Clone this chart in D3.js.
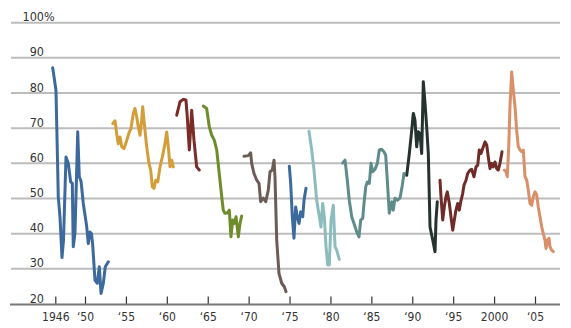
<!DOCTYPE html>
<html><head><meta charset="utf-8">
<script src="https://cdn.jsdelivr.net/npm/d3@7"></script>
<style>
html,body{margin:0;padding:0;background:#fff;}
svg{display:block;}
text{font-family:"Liberation Sans Narrow","DejaVu Sans Condensed","Roboto Condensed",sans-serif;font-stretch:condensed;fill:#333;}
</style></head>
<body>
<svg id="chart" width="571" height="328"></svg>
<script>
// Presidential approval series: [year, percent]
const truman = [[1945.65,87.2],[1946.09,80.8],[1946.27,63.7],[1946.40,50.5],[1946.63,44.8],[1946.90,33.2],[1947.10,38],[1947.44,61.8],[1947.75,60],[1948.07,54.7],[1948.29,54.3],[1948.42,36.3],[1948.65,40.1],[1949.02,69],[1949.23,56.2],[1949.46,55],[1949.77,48.6],[1950.21,42],[1950.40,37.2],[1950.61,40.5],[1950.79,40],[1950.94,36.8],[1951.22,26.8],[1951.50,25.9],[1951.75,30.6],[1951.96,23],[1952.24,25.9],[1952.48,30.6],[1952.85,32]];
const eisenhower = [[1953.39,71.3],[1953.67,72.1],[1953.87,68.5],[1954.07,65.6],[1954.28,67.5],[1954.49,64.7],[1954.77,64.2],[1955.10,66.5],[1955.41,68.9],[1955.62,69.9],[1955.90,74.2],[1956.11,75.6],[1956.32,73.2],[1956.51,70.4],[1956.72,68],[1956.93,72.3],[1957.05,76.1],[1957.25,71.3],[1957.54,64.7],[1957.82,60],[1958.03,58.1],[1958.23,53.3],[1958.43,52.9],[1958.64,55.2],[1958.89,54.7],[1959.17,59],[1959.45,61.8],[1959.78,65.6],[1959.99,68.9],[1960.18,64.8],[1960.39,59],[1960.60,60.9],[1960.79,59]];
const kennedy = [[1961.21,73.7],[1961.61,77.5],[1962.01,78.2],[1962.34,78],[1962.50,73.2],[1962.75,63.8],[1963.04,75.1],[1963.32,66.6],[1963.65,59],[1963.97,58.1]];
const johnson = [[1964.46,76.3],[1964.87,75.6],[1965.19,70.4],[1965.49,68],[1965.80,66.6],[1966.10,63.8],[1966.41,57.1],[1966.71,50.5],[1966.90,46.7],[1967.11,45.8],[1967.39,45.9],[1967.64,46.7],[1967.84,39.1],[1968.05,43.9],[1968.25,42.9],[1968.46,44.8],[1968.74,39.1],[1968.94,42.9],[1969.15,45]];
const nixon = [[1969.43,62],[1969.96,62.2],[1970.25,63],[1970.37,60],[1970.66,57.1],[1970.99,55.2],[1971.27,54.3],[1971.47,49.1],[1971.79,50.1],[1972.09,49.1],[1972.40,52.4],[1972.61,57.6],[1972.89,58.1],[1973.10,60.9],[1973.22,56.2],[1973.43,38.2],[1973.71,28.7],[1974.04,25.9],[1974.36,24.9],[1974.57,23.5]];
const ford = [[1974.97,59.2],[1975.14,54.3],[1975.34,44.8],[1975.54,38.7],[1975.75,47.6],[1975.95,44.8],[1976.16,42.9],[1976.36,46.2],[1976.61,44.8],[1976.77,49.5],[1977.01,52.9]];
const carter = [[1977.38,69.1],[1977.71,63.8],[1977.99,58.1],[1978.32,49.5],[1978.64,44.8],[1978.84,41.9],[1979.05,48.6],[1979.25,44.8],[1979.46,36.3],[1979.66,31.1],[1979.86,31.1],[1980.07,43.9],[1980.35,48.1],[1980.56,36.3],[1980.76,35.3],[1981.08,32.7]];
const reagan = [[1981.50,60.1],[1981.78,60.9],[1982.06,55.2],[1982.30,49.5],[1982.60,44.8],[1982.88,42.9],[1983.21,40.5],[1983.49,39.1],[1983.70,43.9],[1983.94,44.3],[1984.10,48.6],[1984.31,53.3],[1984.50,54.7],[1984.75,54.3],[1984.96,60],[1985.16,57.6],[1985.44,58.3],[1985.73,60],[1985.97,63.8],[1986.26,64],[1986.54,63.3],[1986.75,62.3],[1986.95,55.2],[1987.19,45.8],[1987.49,49.1],[1987.68,46.7],[1987.89,50.1],[1988.17,49.5],[1988.50,50.1],[1988.78,53.8],[1988.99,57.1]];
const bushSr = [[1989.32,56.6],[1989.64,62.8],[1989.93,69.4],[1990.13,74.2],[1990.33,72.3],[1990.54,64.7],[1990.74,69],[1990.94,68.5],[1991.15,62.8],[1991.35,83.2],[1991.56,77],[1991.76,70.4],[1991.96,62.8],[1992.17,41.9],[1992.50,38.2],[1992.78,34.9],[1992.90,43.9],[1993.06,49.1]];
const clinton = [[1993.39,55.2],[1993.51,50.5],[1993.72,43.9],[1993.91,47.6],[1994.12,50.5],[1994.28,51.9],[1994.53,48.6],[1994.73,44.8],[1994.94,41],[1995.14,43.9],[1995.34,46.7],[1995.55,48.6],[1995.75,46.7],[1995.96,49.5],[1996.16,51.4],[1996.32,53.8],[1996.57,55.2],[1996.77,57.1],[1997.06,58.1],[1997.26,58.3],[1997.54,56.2],[1997.79,59],[1998.00,59.5],[1998.19,63.8],[1998.40,62.8],[1998.68,64.7],[1998.89,66.1],[1999.10,65.2],[1999.29,61.8],[1999.50,58.5],[1999.71,60],[1999.90,59],[2000.11,60.4],[2000.32,58.5],[2000.51,58.1],[2000.72,60],[2000.97,63.3]];
const bushJr = [[2001.25,58.1],[2001.46,57.6],[2001.61,56.2],[2001.79,64.7],[2001.94,76.1],[2002.15,86],[2002.35,80.8],[2002.56,76.1],[2002.76,69.4],[2002.96,64.7],[2003.17,63.8],[2003.37,63.3],[2003.57,63.8],[2003.78,56.2],[2003.99,55.2],[2004.18,52.4],[2004.39,48.6],[2004.60,48.1],[2004.79,50.5],[2005.00,51.9],[2005.21,51],[2005.40,47.6],[2005.61,44.8],[2005.82,41.9],[2006.01,40.1],[2006.22,38.2],[2006.34,35.8],[2006.55,38.2],[2006.71,38.7],[2006.83,36.3],[2007.04,35.3],[2007.24,34.9]];

const seriesList = [truman, eisenhower, kennedy, johnson, nixon, ford, carter, reagan, bushSr, clinton, bushJr];
const seriesColors = ["#3d6a9c","#d39d38","#7b2c28","#6f8c2b","#6b5d55","#3d6a9c","#8dbcbd","#5f8c8b","#253330","#6f2b27","#d98f67"];

const yTicks = [20,30,40,50,60,70,80,90,100];
const yTickLabels = ["20","30","40","50","60","70","80","90","100"];
const xTicks = [1946,1950,1955,1960,1965,1970,1975,1980,1985,1990,1995,2000,2005];
const xTickLabels = ["1946","\u201850","\u201855","\u201860","\u201865","\u201870","\u201875","\u201880","\u201885","\u201890","\u201895","2000","\u201805"];

const svg = d3.select("#chart");
const x = d3.scaleLinear().domain([1946,1950,2005]).range([55.3,85,535]);
const y = d3.scaleLinear().domain([20,100]).range([304,22.7]);
const left = 11, right = 560;

// gridlines
svg.append("g").selectAll("line").data(yTicks.filter(d=>d>20)).join("line")
  .attr("x1",left).attr("x2",right)
  .attr("y1",d=>y(d)).attr("y2",d=>y(d))
  .attr("stroke","#bdbdbd").attr("stroke-width",2);

// y labels
const yl = svg.append("g");
yTicks.forEach((d,i)=>{
  const t = yl.append("text").attr("x",44).attr("y",y(d)-1.5)
    .attr("font-size",12.5).attr("text-anchor","end").text(yTickLabels[i]);
  if(d===100){
    const w = t.node().getComputedTextLength();
    t.attr("text-anchor","start").attr("x",44-w).text(yTickLabels[i]+"%");
  }
});

// series lines
const line = d3.line().x(d=>x(d[0])).y(d=>y(d[1]));
svg.append("g").selectAll("path").data(seriesList).join("path")
  .attr("d",line).attr("fill","none")
  .attr("stroke",(d,i)=>seriesColors[i])
  .attr("stroke-width",3).attr("stroke-linejoin","round").attr("stroke-linecap","round");

// x axis
const xAxis = d3.axisBottom(x).tickValues(xTicks).tickSize(0).tickFormat((d,i)=>xTickLabels[i]);
const xg = svg.append("g").attr("transform","translate(0,304)").call(xAxis);
xg.select(".domain").remove();
xg.selectAll("text").attr("font-size",12).attr("dy",0).attr("y",17).attr("fill","#333")
  .style("font-family",'"Liberation Sans Narrow","DejaVu Sans Condensed",sans-serif');
xg.selectAll(".tick").append("line").attr("y1",-7.5).attr("y2",0).attr("stroke","#333").attr("stroke-width",1.2);
svg.append("line").attr("x1",10).attr("x2",right).attr("y1",304.5).attr("y2",304.5)
  .attr("stroke","#777").attr("stroke-width",2);
</script>
</body></html>
